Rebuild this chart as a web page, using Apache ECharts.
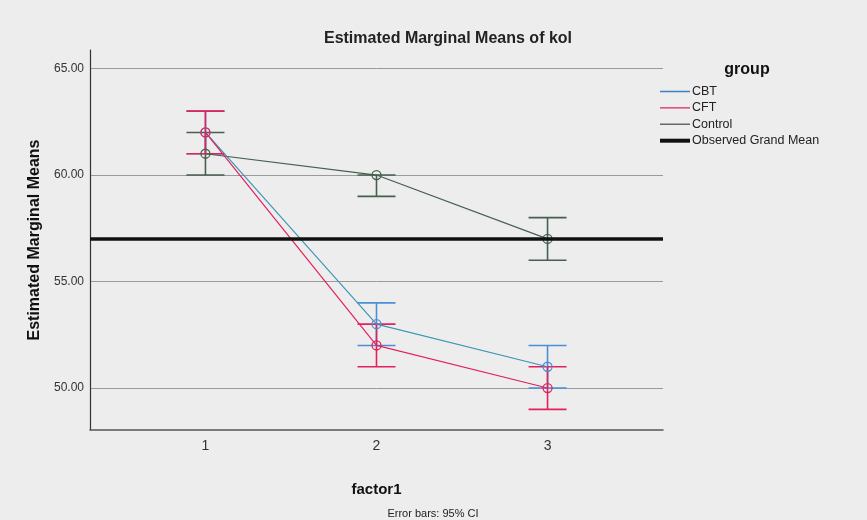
<!DOCTYPE html>
<html>
<head>
<meta charset="utf-8">
<script src="https://cdn.jsdelivr.net/npm/echarts@6/dist/echarts.min.js"></script>
<style>
html,body{margin:0;padding:0;background:#ededed;}
#chart{width:867px;height:520px;}
</style>
</head>
<body>
<div id="chart"></div>
<script>
// ---- data ----
var factorLevels = [1, 2, 3];
var groups = ['CBT', 'CFT', 'Control'];
var cbtMean = [62, 53, 51];
var cbtLow  = [61, 52, 50];
var cbtHigh = [63, 54, 52];
var cftMean = [62, 52, 50];
var cftLow  = [61, 51, 49];
var cftHigh = [63, 53, 51];
var controlMean = [61, 60, 57];
var controlLow  = [60, 59, 56];
var controlHigh = [62, 60, 58];
var grandMean = 57;
var yTicks = [50, 55, 60, 65];
var xTicks = [1, 2, 3];

var colors = { CBT: '#3f95b8', CFT: '#e2225c', Control: '#44604f' };
var capColors = { CBT: '#4a8fd6', CFT: '#e2225c', Control: '#44604f' };

function pts(means) { return factorLevels.map(function (f, i) { return [f, means[i]]; }); }
function bars(low, high) { return factorLevels.map(function (f, i) { return [f, low[i], high[i]]; }); }

function errRender(color) {
  return function (params, api) {
    var x = api.value(0);
    var lo = api.coord([x, api.value(1)]);
    var hi = api.coord([x, api.value(2)]);
    var hw = 19;
    var st = { stroke: color, lineWidth: 1.6 };
    return {
      type: 'group',
      children: [
        { type: 'line', shape: { x1: lo[0], y1: lo[1], x2: hi[0], y2: hi[1] }, style: st },
        { type: 'line', shape: { x1: lo[0] - hw, y1: lo[1], x2: lo[0] + hw, y2: lo[1] }, style: st },
        { type: 'line', shape: { x1: hi[0] - hw, y1: hi[1], x2: hi[0] + hw, y2: hi[1] }, style: st }
      ]
    };
  };
}

function lineSeries(name, means) {
  return {
    name: name, type: 'line', data: pts(means), z: 3,
    symbol: 'circle', symbolSize: 9,
    lineStyle: { color: colors[name], width: 1.2 },
    itemStyle: { color: 'rgba(0,0,0,0)', borderColor: capColors[name], borderWidth: 1.3 },
    emphasis: { disabled: true }
  };
}
function errSeries(name, low, high) {
  return {
    name: name, type: 'custom', data: bars(low, high), z: 3,
    renderItem: errRender(capColors[name]),
    encode: { x: 0, y: [1, 2] }
  };
}

// thin legend line inside a 30x4 box (tiny corner dots keep the box size)
var thinIcon = 'path://M0,0H0.01V0.01H0Z M0,1.3H30V2.7H0Z M29.99,3.99H30V4H29.99Z';
var thickIcon = 'path://M0,0H30V4H0Z';
function legItem(name, icon, color) {
  return { name: name, icon: icon,
    itemStyle: { color: color, borderWidth: 0, borderColor: 'rgba(0,0,0,0)' },
    lineStyle: { width: 0 } };
}

var chart = echarts.init(document.getElementById('chart'));
var font = 'Liberation Sans, Arial, sans-serif';
chart.setOption({
  backgroundColor: '#ededed',
  animation: false,
  textStyle: { fontFamily: font },
  title: [
    { text: 'Estimated Marginal Means of kol', left: 443, top: 26, textAlign: 'center',
      textStyle: { fontSize: 16, fontWeight: 'bold', color: '#222', fontFamily: font } },
    { text: 'group', left: 742, top: 57, textAlign: 'center',
      textStyle: { fontSize: 16, fontWeight: 'bold', color: '#111', fontFamily: font } },
    { text: 'Error bars: 95% CI', left: 428, top: 503, textAlign: 'center',
      textStyle: { fontSize: 11, fontWeight: 'normal', color: '#222', fontFamily: font } }
  ],
  legend: {
    orient: 'vertical', left: 655, top: 80, itemWidth: 30, itemHeight: 4, itemGap: 3.4,
    itemStyle: { borderWidth: 0 },
    lineStyle: { width: 0 },
    textStyle: { fontSize: 12.5, color: '#222', fontFamily: font, padding: [0, 0, 0, -3] },
    data: [
      legItem('CBT', thinIcon, '#3f7fc4'),
      legItem('CFT', thinIcon, colors.CFT),
      legItem('Control', thinIcon, '#666666'),
      legItem('Observed Grand Mean', thickIcon, '#111')
    ]
  },
  grid: { left: 90, right: 204, top: 50, bottom: 90 },
  xAxis: {
    type: 'value', min: 0.325, max: 3.675,
    name: 'factor1', nameLocation: 'middle', nameGap: 52,
    nameTextStyle: { fontSize: 15, fontWeight: 'bold', color: '#111', fontFamily: font },
    axisLine: { lineStyle: { color: '#555', width: 1.5 } },
    axisTick: { show: false, customValues: xTicks },
    axisLabel: { customValues: xTicks, fontSize: 14, color: '#333', margin: 9 },
    splitLine: { show: false }
  },
  yAxis: {
    type: 'value', min: 48.03, max: 65.87,
    name: 'Estimated Marginal Means', nameLocation: 'middle', nameGap: 46, nameRotate: 90,
    nameTextStyle: { fontSize: 16, fontWeight: 'bold', color: '#111', fontFamily: font },
    axisLine: { show: true, lineStyle: { color: '#333', width: 1.2 } },
    axisTick: { show: false, customValues: yTicks },
    axisLabel: { customValues: yTicks, fontSize: 12, color: '#333', margin: 6,
      formatter: function (v) { return v.toFixed(2); } },
    splitLine: { show: true, lineStyle: { color: '#9a9a9a', width: 1 } }
  },
  series: [
    {
      name: 'Observed Grand Mean', type: 'line', data: [], z: 2,
      itemStyle: { color: '#111' },
      markLine: {
        silent: true, symbol: ['none', 'none'], label: { show: false },
        lineStyle: { color: '#111', width: 3.5, type: 'solid' },
        data: [{ yAxis: grandMean }]
      }
    },
    lineSeries('Control', controlMean),
    errSeries('Control', controlLow, controlHigh),
    lineSeries('CBT', cbtMean),
    errSeries('CBT', cbtLow, cbtHigh),
    lineSeries('CFT', cftMean),
    errSeries('CFT', cftLow, cftHigh)
  ]
});
</script>
</body>
</html>
